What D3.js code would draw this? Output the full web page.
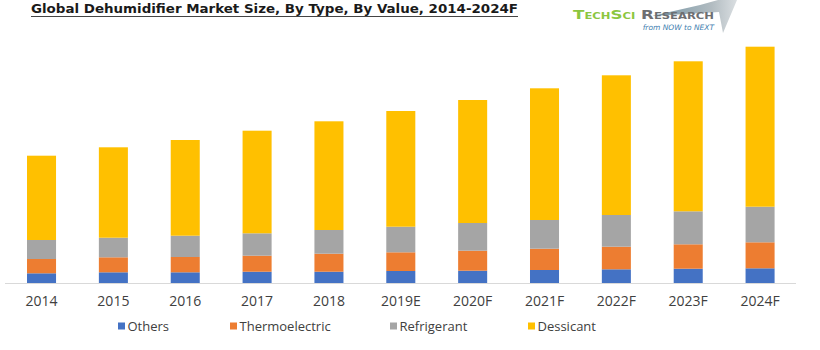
<!DOCTYPE html>
<html>
<head>
<meta charset="utf-8">
<script src="https://cdn.jsdelivr.net/npm/d3@7"></script>
<style>
  html, body { margin: 0; padding: 0; background: #ffffff; }
  svg { display: block; }
</style>
</head>
<body>
<svg id="chart" width="820" height="350"></svg>
<script>
// ---- data ----
const years = ["2014", "2015", "2016", "2017", "2018", "2019E", "2020F", "2021F", "2022F", "2023F", "2024F"];
const seriesNames = ["Others", "Thermoelectric", "Refrigerant", "Dessicant"];
const others         = [1.00, 1.10, 1.10, 1.16, 1.16, 1.23, 1.26, 1.33, 1.40, 1.46, 1.50];
const thermoelectric = [1.43, 1.50, 1.53, 1.60, 1.80, 1.87, 2.00, 2.13, 2.26, 2.44, 2.60];
const refrigerant    = [1.90, 1.96, 2.13, 2.24, 2.37, 2.56, 2.77, 2.87, 3.17, 3.30, 3.56];
const dessicant      = [8.43, 9.04, 9.57, 10.26, 10.87, 11.57, 12.30, 13.17, 13.97, 15.00, 16.00];
const colors = ["#4472C4", "#ED7D31", "#A5A5A5", "#FFC000"];

const table = years.map((y, i) => ({
  year: y,
  Others: others[i],
  Thermoelectric: thermoelectric[i],
  Refrigerant: refrigerant[i],
  Dessicant: dessicant[i]
}));

const svg = d3.select("#chart");

// ---- scales ----
const x = d3.scaleBand()
  .domain(years)
  .range([5.6, 796])
  .paddingInner(0.596)
  .paddingOuter(0.298);

const y = d3.scaleLinear()
  .domain([0, 25])
  .range([283.3, 33.3]);

const stack = d3.stack().keys(seriesNames);
const stacked = stack(table);

const color = d3.scaleOrdinal().domain(seriesNames).range(colors);

// ---- bars ----
svg.append("g")
  .selectAll("g")
  .data(stacked)
  .join("g")
  .attr("fill", d => color(d.key))
  .selectAll("rect")
  .data(d => d)
  .join("rect")
  .attr("x", d => x(d.data.year))
  .attr("width", x.bandwidth())
  .attr("y", d => y(d[1]))
  .attr("height", d => y(d[0]) - y(d[1]));

// ---- x axis ----
const xAxis = d3.axisBottom(x).tickSize(0).tickPadding(13);
const gx = svg.append("g")
  .attr("transform", "translate(0," + 283.5 + ")")
  .call(xAxis);
gx.select(".domain").attr("stroke", "#d9d9d9").attr("stroke-width", 1.2)
  .attr("d", "M5,0H796");
gx.selectAll("text")
  .attr("font-family", "'Open Sans', sans-serif")
  .attr("font-size", 14)
  .attr("fill", "#404040");

// ---- legend ----
const legendX = [118, 230, 390, 528];
const legend = svg.append("g");
seriesNames.forEach((name, i) => {
  legend.append("rect")
    .attr("x", legendX[i]).attr("y", 322.5)
    .attr("width", 7).attr("height", 7)
    .attr("fill", colors[i]);
  legend.append("text")
    .attr("x", legendX[i] + 9.5).attr("y", 330.5)
    .attr("font-family", "'Open Sans', sans-serif")
    .attr("font-size", 13)
    .attr("fill", "#404040")
    .text(name);
});

// ---- title ----
const title = svg.append("text")
  .attr("x", 31).attr("y", 13)
  .attr("font-family", "'DejaVu Sans', Verdana, sans-serif")
  .attr("font-weight", "bold")
  .attr("font-size", 12)
  .attr("fill", "#1a1a1a")
  .attr("textLength", 487)
  .attr("lengthAdjust", "spacingAndGlyphs")
  .text("Global Dehumidifier Market Size, By Type, By Value, 2014-2024F");
svg.append("line")
  .attr("x1", 31).attr("x2", 518)
  .attr("y1", 16.5).attr("y2", 16.5)
  .attr("stroke", "#444").attr("stroke-width", 1.2);

// ---- logo ----
const defs = svg.append("defs");
const grad = defs.append("linearGradient").attr("id", "swoosh")
  .attr("x1", "0%").attr("x2", "100%").attr("y1", "0%").attr("y2", "0%");
grad.append("stop").attr("offset", "0%").attr("stop-color", "#5f8597");
grad.append("stop").attr("offset", "70%").attr("stop-color", "#a9b4ba");
grad.append("stop").attr("offset", "100%").attr("stop-color", "#d6dbde");
const logo = svg.append("g");
logo.append("path")
  .attr("d", "M652,16 L700,5 L718,0 L737,0 L723,33 L719,12 Z")
  .attr("fill", "url(#swoosh)")
  .attr("opacity", 0.9);
const lt = logo.append("text")
  .attr("x", 573).attr("y", 19)
  .attr("font-family", "'DejaVu Sans', Verdana, sans-serif")
  .attr("font-size", 13)
  .attr("font-weight", "bold")
  .attr("font-variant", "small-caps")
  .attr("textLength", 141)
  .attr("lengthAdjust", "spacingAndGlyphs");
lt.append("tspan").attr("fill", "#8cc63f").text("TechSci ");
lt.append("tspan").attr("fill", "#6d6e71").text("Research");
logo.append("text")
  .attr("x", 714).attr("y", 30)
  .attr("text-anchor", "end")
  .attr("font-family", "'DejaVu Sans', sans-serif")
  .attr("font-size", 7.5)
  .attr("font-style", "italic")
  .attr("fill", "#3f7fb0")
  .text("from NOW to NEXT");
</script>
</body>
</html>
